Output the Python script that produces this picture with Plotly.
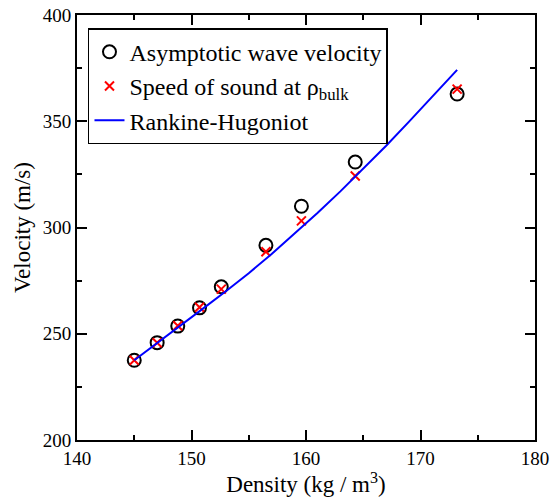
import plotly.graph_objects as go

# Data
density = [145.0, 147.0, 148.8, 150.7, 152.6, 156.5, 159.6, 164.3, 173.2]
asymptotic_velocity = [237.5, 245.8, 253.6, 262.2, 272.1, 291.6, 310.0, 330.8, 362.8]
sound_speed = [237.5, 245.8, 253.8, 262.5, 271.0, 288.6, 303.1, 324.2, 365.1]

rh_density = [145, 147, 149, 151, 153, 155, 157, 159, 161, 163, 165, 167, 169, 171, 173.2]
rh_velocity = [237.5, 245.5, 253.6, 261.8, 270.0, 278.5, 287.5, 297.0, 306.8, 317.0,
               327.6, 338.5, 349.8, 361.6, 374.2]

x_ticks = [140, 150, 160, 170, 180]
y_ticks = [200, 250, 300, 350, 400]

FONT = "Times New Roman"

fig = go.Figure()
fig.add_trace(go.Scatter(
    x=density, y=asymptotic_velocity, mode="markers",
    name="Asymptotic wave velocity",
    marker=dict(symbol="circle-open", size=13, color="black", line=dict(width=2, color="black")),
))
fig.add_trace(go.Scatter(
    x=density, y=sound_speed, mode="markers",
    name="Speed of sound at ρ<sub>bulk</sub>",
    marker=dict(symbol="x-thin-open", size=9, color="red", line=dict(width=2, color="red")),
))
fig.add_trace(go.Scatter(
    x=rh_density, y=rh_velocity, mode="lines",
    name="Rankine-Hugoniot",
    line=dict(color="blue", width=2),
))

axis_common = dict(
    showgrid=False, zeroline=False, automargin=False,
    showline=True, linecolor="black", linewidth=2, mirror="ticks",
    ticks="inside", ticklen=10, tickwidth=1.5, tickcolor="black",
    tickfont=dict(family=FONT, size=19),
)

fig.update_layout(
    width=551, height=502,
    margin=dict(l=77, r=16, t=15, b=62),
    paper_bgcolor="white", plot_bgcolor="white",
    font=dict(color="black"),
    showlegend=True,
    legend=dict(
        x=0.024, y=0.969, xanchor="left", yanchor="top",
        bordercolor="black", borderwidth=1.5, bgcolor="white",
        font=dict(family=FONT, size=24),
        tracegroupgap=0, itemwidth=30,
    ),
    xaxis=dict(
        axis_common, range=[140, 180], tickvals=x_ticks,
        minor=dict(ticks="inside", ticklen=5, tickwidth=1.5, dtick=5, tickcolor="black", showgrid=False),
        title=dict(text="Density (kg / m<sup>3</sup>)", font=dict(family=FONT, size=23), standoff=4),
    ),
    yaxis=dict(
        axis_common, range=[200, 400], tickvals=y_ticks,
        minor=dict(ticks="inside", ticklen=5, tickwidth=1.5, dtick=25, tickcolor="black", showgrid=False),
        title=dict(text="Velocity (m/s)", font=dict(family=FONT, size=23), standoff=6),
    ),
)

# Remove the default page margin and make sure the serif face is used for every
# text, then redraw so that plotly measures the texts with that face.
post = (
    "document.body.style.margin='0';"
    "var st=document.createElement('style');"
    "st.textContent=\"svg text{font-family:'Liberation Serif','Times New Roman',serif !important;}\";"
    "document.head.appendChild(st);"
    "var gd=document.getElementById('{plot_id}');"
    "Plotly.newPlot(gd, gd.data, gd.layout, {displayModeBar:false});"
)

fig.write_html("out.html", config={"displayModeBar": False}, post_script=post)
